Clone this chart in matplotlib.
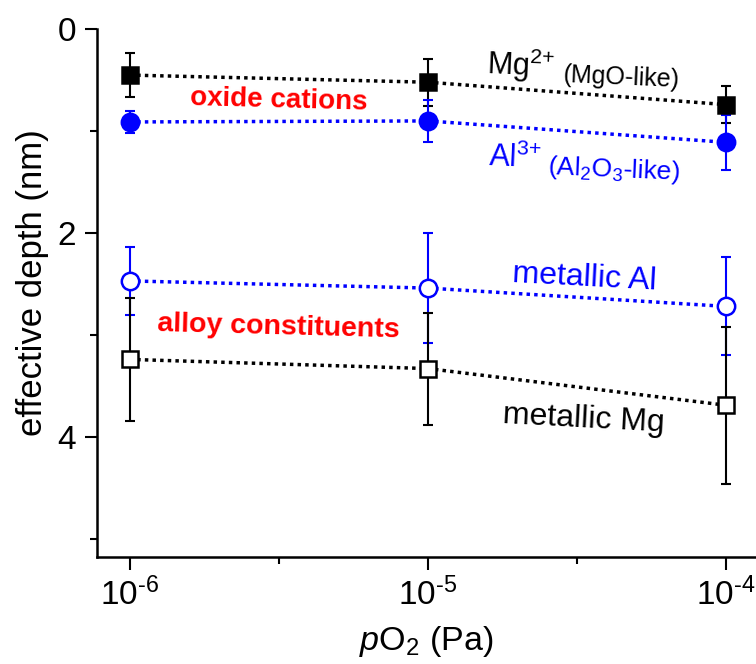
import numpy as np
import matplotlib
matplotlib.use("Agg")
import matplotlib.pyplot as plt
from matplotlib.ticker import FixedLocator, NullFormatter

plt.rcParams["font.family"] = ["Liberation Sans", "DejaVu Sans"]
plt.rcParams["mathtext.fontset"] = "custom"
plt.rcParams["mathtext.rm"] = "Liberation Sans"
plt.rcParams["mathtext.it"] = "Liberation Sans:italic"
plt.rcParams["axes.unicode_minus"] = False

po2 = [1e-6, 1e-5, 1e-4]
po2_labels = [r"10$^{\text{-6}}$", r"10$^{\text{-5}}$", r"10$^{\text{-4}}$"]

mg_ox = [0.45, 0.52, 0.74]
mg_ox_err = [0.22, 0.23, 0.18]
al_ox = [0.91, 0.90, 1.11]
al_ox_err = [0.11, 0.21, 0.27]
al_met = [2.47, 2.54, 2.72]
al_met_err = [0.33, 0.54, 0.48]
mg_met = [3.24, 3.33, 3.69]
mg_met_err = [0.60, 0.55, 0.77]

fig = plt.figure(figsize=(7.56, 6.64), dpi=100)
ax = fig.add_axes([0.128, 0.161, 0.872, 0.795])

series = [
    (mg_ox, mg_ox_err, "s", "black", "black"),
    (al_ox, al_ox_err, "o", "blue", "blue"),
    (al_met, al_met_err, "o", "blue", "white"),
    (mg_met, mg_met_err, "s", "black", "white"),
]
for y, err, mk, col, face in series:
    ax.errorbar(po2, y, yerr=err, fmt="none", ecolor=col, elinewidth=1.5,
                capsize=3.5, capthick=1.5, zorder=2)
    ax.plot(po2, y, ls=(0, (1, 1.2)), lw=2.5, color=col, zorder=3)
    ax.plot(po2, y, ls="none", marker=mk, ms=11 if mk == "s" else 12.5,
            mfc=face, mec=col, mew=1.8, zorder=4)

ax.set_xscale("log")
ax.set_xlim(10 ** -6.11, 10 ** -3.9)
ax.set_ylim(5.18, 0)
ax.set_xticks(po2)
ax.set_xticklabels(po2_labels)
ax.xaxis.set_minor_locator(FixedLocator([10 ** -5.5, 10 ** -4.5]))
ax.xaxis.set_minor_formatter(NullFormatter())
ax.set_yticks([0, 2, 4])
ax.yaxis.set_minor_locator(FixedLocator([1, 3, 5]))

for s in ["top", "right"]:
    ax.spines[s].set_visible(False)
for s in ["left", "bottom"]:
    ax.spines[s].set_linewidth(1.8)
ax.tick_params(which="major", direction="out", length=9, width=1.5,
               labelsize=24, pad=6)
ax.tick_params(which="minor", direction="out", length=5, width=1.5)

ax.set_ylabel("effective depth (nm)", fontsize=25)
ax.yaxis.set_label_coords(-0.072, 0.52)
ax.set_xlabel(r"$\it{p}$O$_2$ (Pa)", fontsize=24.5, labelpad=8)

ax.text(10 ** -4.805, 0.35, r"Mg$^{2{+}}$", fontsize=22, color="black",
        rotation=-2.5, va="center")
ax.text(10 ** -4.55, 0.47, "(MgO-like)", fontsize=18, color="black",
        rotation=-2.5, va="center")
ax.text(10 ** -4.80, 1.27, r"Al$^{3{+}}$", fontsize=22, color="blue",
        rotation=-2.5, va="center")
ax.text(10 ** -4.60, 1.38, r"(Al$_2$O$_3$-like)", fontsize=19, color="blue",
        rotation=-2.5, va="center")
ax.text(10 ** -5.50, 0.70, "oxide cations", fontsize=20, color="red",
        fontweight="bold", ha="center", va="center", rotation=-1.5)
ax.text(10 ** -4.72, 2.44, "metallic Al", fontsize=23, color="blue",
        rotation=-3, va="center")
ax.text(10 ** -5.50, 2.92, "alloy constituents", fontsize=20.5, color="red",
        fontweight="bold", ha="center", va="center", rotation=-1.5)
ax.text(10 ** -4.75, 3.83, "metallic Mg", fontsize=23, color="black",
        rotation=-3, va="center")

fig.savefig("out.png", dpi=100)
